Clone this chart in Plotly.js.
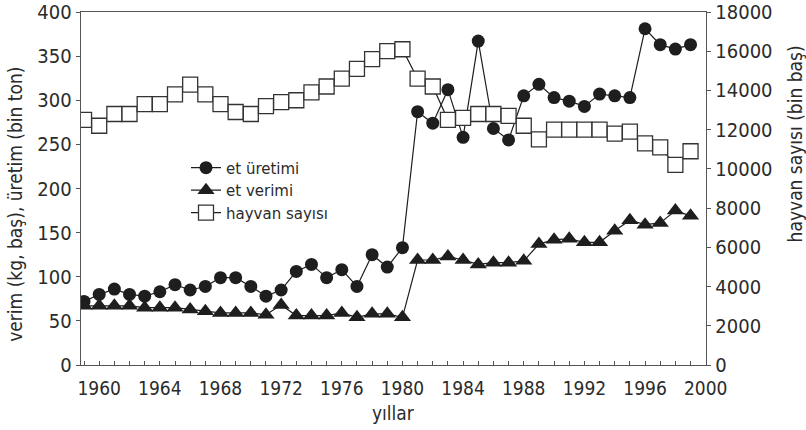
<!DOCTYPE html>
<html>
<head>
<meta charset="utf-8">
<script src="https://cdn.plot.ly/plotly-3.0.1.min.js"></script>
<style>
html,body{margin:0;padding:0;background:#fff;}
#chart{width:806px;height:430px;}
</style>
</head>
<body>
<div id="chart"></div>
<script>
const years = [1959,1960,1961,1962,1963,1964,1965,1966,1967,1968,1969,1970,1971,1972,1973,1974,1975,1976,1977,1978,1979,1980,1981,1982,1983,1984,1985,1986,1987,1988,1989,1990,1991,1992,1993,1994,1995,1996,1997,1998,1999];
const etUretimi = [72,80,86,80,78,83,91,85,89,99,99,89,78,85,106,114,99,108,89,125,111,133,287,274,312,258,367,268,255,305,318,303,299,293,307,305,303,381,363,358,363];
const etVerimi = [67,67,67,67,65,65,65,63,61,59,59,59,57,68,56,56,56,59,54,58,58,54,119,119,123,119,114,116,116,118,137,142,143,139,139,152,164,159,161,175,169];
const hayvanSayisi = [12500,12200,12800,12800,13300,13300,13800,14300,13800,13300,12900,12800,13200,13400,13500,13900,14200,14600,15100,15600,16000,16100,14600,14200,12500,12600,12800,12800,12700,12200,11500,12000,12000,12000,12000,11800,11900,11300,11100,10200,10900];
const seriesNames = ["et üretimi", "et verimi", "hayvan sayısı"];
const leftTitle = "verim (kg, baş), üretim (bin ton)";
const rightTitle = "hayvan sayısı (bin baş)";
const xTitle = "yıllar";

const ink = "#1e1e1e";
const axisCol = "#555555";
const textCol = "#2b2b2b";
const narrow = "'Liberation Sans Narrow', 'DejaVu Sans Condensed', 'Liberation Sans', sans-serif";
const legendFont = "'DejaVu Sans', 'Noto Sans', sans-serif";

const traces = [
  {x: years, y: etUretimi, name: seriesNames[0], type: "scatter", mode: "lines+markers",
   line: {color: ink, width: 1.2}, marker: {symbol: "circle", size: 13, color: ink}, yaxis: "y"},
  {x: years, y: etVerimi, name: seriesNames[1], type: "scatter", mode: "lines+markers",
   line: {color: ink, width: 1.2}, marker: {symbol: "triangle-up", size: 15, color: ink}, yaxis: "y"},
  {x: years, y: hayvanSayisi, name: seriesNames[2], type: "scatter", mode: "lines+markers",
   line: {color: ink, width: 1.2}, marker: {symbol: "square", size: 15, color: "#ffffff", line: {color: "#333333", width: 1.3}}, yaxis: "y2"}
];

const tickFont = {family: narrow, size: 20, color: textCol};

const layout = {
  width: 806, height: 430,
  margin: {l: 81, r: 100, t: 12, b: 65},
  paper_bgcolor: "#ffffff", plot_bgcolor: "#ffffff",
  showlegend: true,
  legend: {x: 0.168, y: 0.605, xanchor: "left", yanchor: "top", bgcolor: "rgba(0,0,0,0)",
           font: {family: legendFont, size: 15, color: textCol}},
  xaxis: {range: [1958.8, 2000.02], tick0: 1960, dtick: 4, ticks: "inside", ticklen: 4, tickcolor: axisCol,
          minor: {dtick: 1, ticks: "inside", ticklen: 4, tickcolor: axisCol},
          ticklabelstandoff: 6,
          showline: true, linecolor: axisCol, linewidth: 1.3, mirror: true,
          showgrid: false, zeroline: false, tickfont: {family: narrow, size: 19, color: textCol}},
  yaxis: {range: [0, 400], dtick: 50, ticks: "outside", ticklen: 4, tickcolor: axisCol,
          showline: true, linecolor: axisCol, linewidth: 1.3, showgrid: false, zeroline: false,
          tickfont: tickFont},
  yaxis2: {range: [0, 18000], dtick: 2000, overlaying: "y", side: "right", ticks: "outside", ticklen: 4, tickcolor: axisCol,
           tickformat: "d", showline: true, linecolor: axisCol, linewidth: 1.3, showgrid: false, zeroline: false,
           tickfont: tickFont},
  yaxis3: {range: [0, 400], dtick: 50, overlaying: "y", side: "left", ticks: "inside", ticklen: 4, tickcolor: axisCol,
           showticklabels: false, showline: false, showgrid: false, zeroline: false},
  yaxis4: {range: [0, 18000], dtick: 2000, overlaying: "y", side: "right", ticks: "inside", ticklen: 4, tickcolor: axisCol,
           showticklabels: false, showline: false, showgrid: false, zeroline: false},
  annotations: [
    {text: leftTitle, xref: "paper", yref: "paper", x: -0.106, y: 0.456, textangle: -90, showarrow: false,
     xanchor: "center", yanchor: "middle", font: {family: narrow, size: 19, color: textCol}},
    {text: rightTitle, xref: "paper", yref: "paper", x: 1.143, y: 0.626, textangle: -90, showarrow: false,
     xanchor: "center", yanchor: "middle", font: {family: narrow, size: 19, color: textCol}},
    {text: xTitle, xref: "paper", yref: "paper", x: 0.5, y: -0.135, showarrow: false,
     xanchor: "center", yanchor: "middle", font: {family: narrow, size: 19, color: textCol}}
  ]
};

Plotly.newPlot("chart", traces, layout, {staticPlot: true, displayModeBar: false});
</script>
</body>
</html>
